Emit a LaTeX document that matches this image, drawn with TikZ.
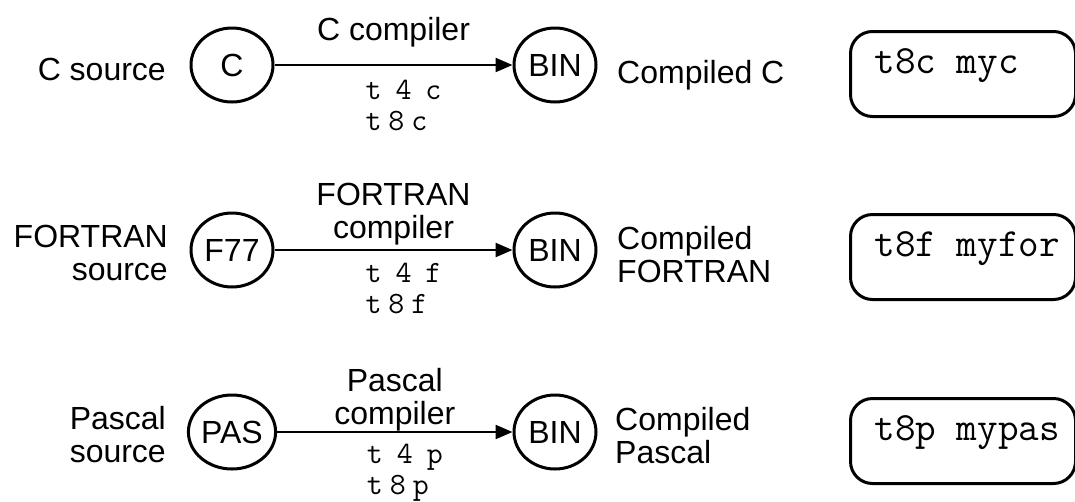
\documentclass[tikz,border=0pt]{standalone}
\usepackage{fontspec}
\setmainfont{Liberation Sans}
\usetikzlibrary{positioning,arrows.meta,shapes.geometric}

\begin{document}
\begin{tikzpicture}[x=1pt,y=-1pt,>={Triangle[length=17pt,width=14pt]},
  lang/.style={draw,ellipse,line width=3pt,minimum width=82pt,minimum height=74pt,inner sep=0pt,font=\fontsize{32}{33}\selectfont},
  txt/.style={inner sep=0pt,font=\fontsize{32}{33}\selectfont},
  cmd/.style={inner sep=0pt,align=left,font=\ttfamily\fontsize{31}{31}\selectfont},
  cmdbox/.style={draw,rounded corners=22pt,line width=3pt,anchor=north west,inner xsep=24pt,inner ysep=0pt,text height=42pt,text depth=43pt,font=\ttfamily\fontsize{40}{40}\selectfont}]
\useasboundingbox (0,0) rectangle (1075,501);

\node[lang] (csrc) at (232,65) {C};
\node[lang] (cbin) at (555,65) {BIN};
\node[txt,anchor=base east] (clbl) at (166,80) {C source};
\node[txt,anchor=base west] (cout) at (617,83) {Compiled C};
\draw[->,line width=2.4pt] (csrc) -- (cbin)
  node[txt,midway,above=17pt] (ccomp) {C compiler}
  node[cmd,midway,below=14pt,xshift=10pt] (ccmd) {t\kern14pt4\kern14pt c\\t\kern7pt8\kern7pt c};
\node[cmdbox] (crun) at (849,30) {\makebox[177pt][l]{t8c myc}};

\node[lang] (fsrc) at (232,250) {F77};
\node[lang] (fbin) at (555,250) {BIN};
\node[txt,anchor=north east,align=right] (flbl) at (168,225) {FORTRAN\\source};
\node[txt,anchor=north west,align=left] (fout) at (617,226) {Compiled\\FORTRAN};
\draw[->,line width=2.4pt] (fsrc) -- (fbin)
  node[txt,midway,above=4pt,align=center] (fcomp) {FORTRAN\\compiler}
  node[cmd,midway,below=12pt,xshift=10pt] (fcmd) {t\kern14pt4\kern14pt f\\t\kern7pt8\kern7pt f};
\node[cmdbox] (frun) at (849,213) {\makebox[177pt][l]{t8f myfor}};

\node[lang] (psrc) at (232,432) {PAS};
\node[lang] (pbin) at (555,432) {BIN};
\node[txt,anchor=north east,align=right] (plbl) at (166,406) {Pascal\\source};
\node[txt,anchor=north west,align=left] (pout) at (615,407) {Compiled\\Pascal};
\draw[->,line width=2.4pt] (psrc) -- (pbin)
  node[txt,midway,above=0pt,align=center] (pcomp) {Pascal\\compiler}
  node[cmd,midway,below=11pt,xshift=10pt] (pcmd) {t\kern14pt4\kern14pt p\\t\kern7pt8\kern7pt p};
\node[cmdbox] (prun) at (849,397) {\makebox[177pt][l]{t8p mypas}};
\end{tikzpicture}
\end{document}
